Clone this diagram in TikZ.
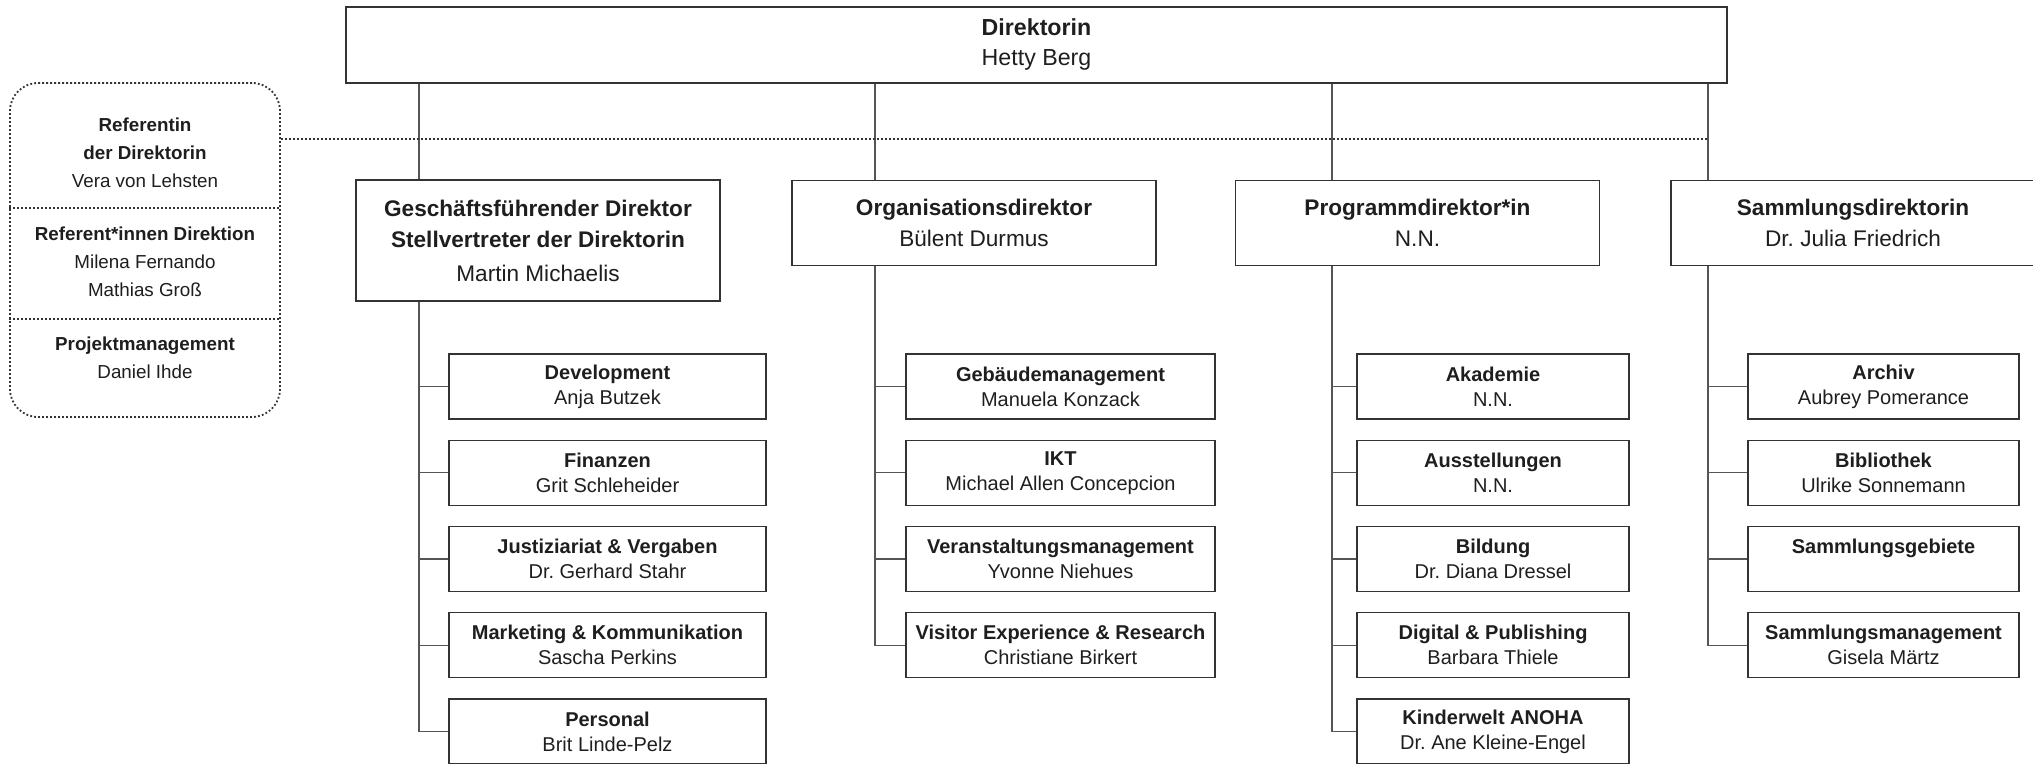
\documentclass[tikz,border=0pt]{standalone}
\usepackage{fontspec}
\setmainfont{Liberation Sans}
\frenchspacing
\definecolor{boxline}{HTML}{333333}
\definecolor{linkgray}{HTML}{555555}
\definecolor{inktext}{HTML}{1E1E1E}

\tikzset{
  box/.style={rectangle, draw=boxline, line width=0.7pt, inner sep=0pt, align=center, text=inktext},
  topbox/.style={box, minimum width=690.5pt, minimum height=38pt, font=\fontsize{11.6}{15}\selectfont},
  headbox/.style={box, minimum width=182pt, minimum height=42.5pt, font=\fontsize{11.3}{15.5}\selectfont},
  unitbox/.style={box, minimum height=32.5pt, font=\fontsize{10}{12.5}\selectfont},
  link/.style={draw=linkgray, line width=0.7pt},
  dotline/.style={draw=boxline, line width=0.9pt, dash pattern=on 0.9pt off 1.1pt},
  stafftext/.style={align=center, inner sep=0pt, text=inktext, font=\fontsize{9.4}{14}\selectfont}
}

\begin{document}
\begin{tikzpicture}[x=0.5pt, y=-0.5pt]
  \useasboundingbox (0,0) rectangle (2033,764);

  % Direktion
  \node[topbox] (dir) at (1036.5,45) {\textbf{Direktorin}\\Hetty Berg};

  % Stabsstellen
  \node[dotline, rounded corners=14pt, minimum width=135pt, minimum height=167pt] (stab) at (145,250) {};
  \coordinate (cutA) at (0,208);
  \coordinate (cutB) at (0,319);
  \coordinate (refy) at (0,139);
  \draw[dotline] (stab.west |- cutA) -- (stab.east |- cutA);
  \draw[dotline] (stab.west |- cutB) -- (stab.east |- cutB);
  \node[stafftext] (refdir) at (145,153) {\textbf{Referentin}\\\textbf{der Direktorin}\\Vera von Lehsten};
  \node[stafftext] (refdion) at (145,262) {\textbf{Referent*innen Direktion}\\Milena Fernando\\Mathias Groß};
  \node[stafftext] (projm) at (145,358) {\textbf{Projektmanagement}\\Daniel Ihde};

  % Bereichsleitungen
  \node[headbox, minimum height=60.5pt] (gf) at (538,240.5) {\textbf{Geschäftsführender Direktor}\\\textbf{Stellvertreter der Direktorin}\\[1.5pt]Martin Michaelis};
  \node[headbox] (org) at (974,223) {\textbf{Organisationsdirektor}\\Bülent Durmus};
  \node[headbox] (prog) at (1417.5,223) {\textbf{Programmdirektor*in}\\N.N.};
  \node[headbox] (samm) at (1853,223) {\textbf{Sammlungsdirektorin}\\Dr. Julia Friedrich};

  \coordinate (gfx) at (419,0);
  \coordinate (orgx) at (875,0);
  \coordinate (progx) at (1332,0);
  \coordinate (sammx) at (1708,0);

  % Abteilungen
  \node[unitbox, minimum width=158.5pt] (dev) at (607.5,386.5) {\textbf{Development}\\Anja Butzek};
  \node[unitbox, minimum width=158.5pt] (fin) at (607.5,472.75) {\textbf{Finanzen}\\Grit Schleheider};
  \node[unitbox, minimum width=158.5pt] (jus) at (607.5,559) {\textbf{Justiziariat \& Vergaben}\\Dr. Gerhard Stahr};
  \node[unitbox, minimum width=158.5pt] (mark) at (607.5,645.25) {\textbf{Marketing \& Kommunikation}\\Sascha Perkins};
  \node[unitbox, minimum width=158.5pt] (pers) at (607.5,731.5) {\textbf{Personal}\\Brit Linde-Pelz};

  \node[unitbox, minimum width=154.5pt] (gebm) at (1060.5,386.5) {\textbf{Gebäudemanagement}\\Manuela Konzack};
  \node[unitbox, minimum width=154.5pt] (ikt) at (1060.5,472.75) {\textbf{IKT}\\Michael Allen Concepcion};
  \node[unitbox, minimum width=154.5pt] (veran) at (1060.5,559) {\textbf{Veranstaltungsmanagement}\\Yvonne Niehues};
  \node[unitbox, minimum width=154.5pt] (visit) at (1060.5,645.25) {\textbf{Visitor Experience \& Research}\\Christiane Birkert};

  \node[unitbox, minimum width=136pt] (akad) at (1493,386.5) {\textbf{Akademie}\\N.N.};
  \node[unitbox, minimum width=136pt] (ausst) at (1493,472.75) {\textbf{Ausstellungen}\\N.N.};
  \node[unitbox, minimum width=136pt] (bild) at (1493,559) {\textbf{Bildung}\\Dr. Diana Dressel};
  \node[unitbox, minimum width=136pt] (digi) at (1493,645.25) {\textbf{Digital \& Publishing}\\Barbara Thiele};
  \node[unitbox, minimum width=136pt] (anoha) at (1493,731.5) {\textbf{Kinderwelt ANOHA}\\Dr. Ane Kleine-Engel};

  \node[unitbox, minimum width=135.5pt] (archiv) at (1883.5,386.5) {\textbf{Archiv}\\Aubrey Pomerance};
  \node[unitbox, minimum width=135.5pt] (bib) at (1883.5,472.75) {\textbf{Bibliothek}\\Ulrike Sonnemann};
  \node[unitbox, minimum width=135.5pt] (sgeb) at (1883.5,559) {\textbf{Sammlungsgebiete}\\\phantom{N}};
  \node[unitbox, minimum width=135.5pt] (sman) at (1883.5,645.25) {\textbf{Sammlungsmanagement}\\Gisela Märtz};

  % Verbindungen
  \draw[link] (dir.south -| gfx) -- (gf.north -| gfx);
  \draw[link] (dir.south -| orgx) -- (org.north -| orgx);
  \draw[link] (dir.south -| progx) -- (prog.north -| progx);
  \draw[link] (dir.south -| sammx) -- (samm.north -| sammx);
  \draw[dotline] (refy -| stab.east) -- (refy -| sammx);

  \draw[link] (gf.south -| gfx) |- (pers.west);
  \draw[link] (dev.west -| gfx) -- (dev.west);
  \draw[link] (fin.west -| gfx) -- (fin.west);
  \draw[link] (jus.west -| gfx) -- (jus.west);
  \draw[link] (mark.west -| gfx) -- (mark.west);

  \draw[link] (org.south -| orgx) |- (visit.west);
  \draw[link] (gebm.west -| orgx) -- (gebm.west);
  \draw[link] (ikt.west -| orgx) -- (ikt.west);
  \draw[link] (veran.west -| orgx) -- (veran.west);

  \draw[link] (prog.south -| progx) |- (anoha.west);
  \draw[link] (akad.west -| progx) -- (akad.west);
  \draw[link] (ausst.west -| progx) -- (ausst.west);
  \draw[link] (bild.west -| progx) -- (bild.west);
  \draw[link] (digi.west -| progx) -- (digi.west);

  \draw[link] (samm.south -| sammx) |- (sman.west);
  \draw[link] (archiv.west -| sammx) -- (archiv.west);
  \draw[link] (bib.west -| sammx) -- (bib.west);
  \draw[link] (sgeb.west -| sammx) -- (sgeb.west);
\end{tikzpicture}
\end{document}
